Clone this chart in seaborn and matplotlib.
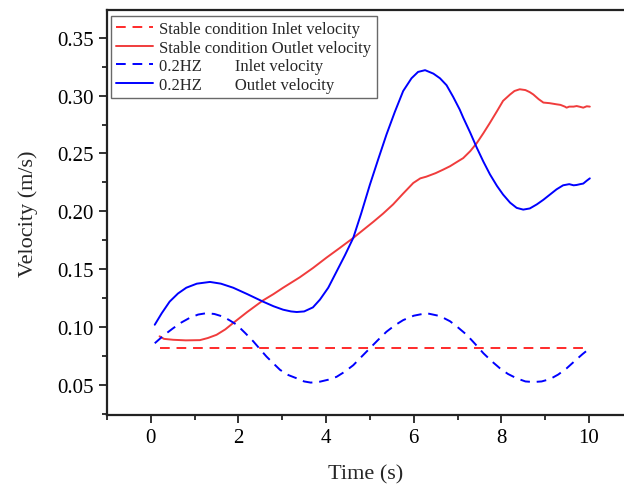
import matplotlib
matplotlib.use("Agg")
import matplotlib.pyplot as plt
import seaborn as sns
import pandas as pd
from matplotlib.ticker import MultipleLocator

sns.set_theme(style="ticks")
plt.rcParams['font.family'] = ['Liberation Serif', 'DejaVu Serif']

# Stable condition inlet velocity
t_stable_in = [0.2, 10.0]
v_stable_in = [0.082, 0.082]

# Stable condition outlet velocity
t_stable_out = [0.2, 0.3, 0.51, 0.8, 1.12, 1.3, 1.5, 1.7, 1.88, 2.2, 2.56, 2.8, 3.02, 3.4,
                3.7, 4.01, 4.3, 4.62, 4.85, 5.08, 5.3, 5.53, 5.75, 5.99, 6.15, 6.29, 6.5,
                6.67, 6.83, 7.0, 7.13, 7.29, 7.44, 7.59, 7.74, 7.9, 8.04, 8.2, 8.3, 8.42,
                8.55, 8.65, 8.73, 8.85, 8.96, 9.1, 9.26, 9.35, 9.45, 9.49, 9.55, 9.65,
                9.72, 9.8, 9.87, 9.95, 10.02]
v_stable_out = [0.092, 0.0898, 0.089, 0.0885, 0.0887, 0.0905, 0.0933, 0.098, 0.1035, 0.113,
                0.123, 0.1285, 0.134, 0.143, 0.151, 0.160, 0.168, 0.177, 0.184, 0.191,
                0.198, 0.206, 0.215, 0.2245, 0.2285, 0.230, 0.233, 0.236, 0.239, 0.243,
                0.246, 0.252, 0.259, 0.2675, 0.2765, 0.2865, 0.2955, 0.301, 0.304, 0.3055,
                0.3048, 0.303, 0.301, 0.297, 0.294, 0.2935, 0.2925, 0.292, 0.2905, 0.2896,
                0.2905, 0.2905, 0.291, 0.2903, 0.2896, 0.2908, 0.2905]

# 0.2HZ inlet velocity
t_hz_in = [0.09, 0.3, 0.51, 0.7, 0.89, 1.08, 1.27, 1.45, 1.65, 1.8, 1.96, 2.15, 2.34, 2.49,
           2.64, 2.8, 2.95, 3.14, 3.33, 3.5, 3.65, 3.86, 4.05, 4.24, 4.43, 4.62, 4.8, 5.0,
           5.19, 5.38, 5.57, 5.76, 6.0, 6.29, 6.6, 6.83, 7.0, 7.21, 7.4, 7.59, 7.78, 7.97,
           8.15, 8.35, 8.55, 8.73, 8.92, 9.11, 9.3, 9.49, 9.7, 9.85, 10.02]
v_hz_in = [0.086, 0.093, 0.099, 0.104, 0.108, 0.1108, 0.112, 0.1113, 0.109, 0.1058, 0.102,
           0.095, 0.0876, 0.081, 0.0745, 0.0685, 0.063, 0.0585, 0.0557, 0.053, 0.052,
           0.0528, 0.0545, 0.057, 0.0615, 0.067, 0.074, 0.0817, 0.089, 0.096, 0.1015,
           0.106, 0.1098, 0.112, 0.1095, 0.105, 0.100, 0.0933, 0.0855, 0.0774, 0.0705,
           0.0643, 0.0595, 0.0557, 0.053, 0.0525, 0.053, 0.055, 0.059, 0.0643, 0.0715,
           0.0765, 0.0817]

# 0.2HZ outlet velocity
t_hz_out = [0.09, 0.25, 0.43, 0.62, 0.81, 1.05, 1.35, 1.6, 1.88, 2.2, 2.56, 2.8, 3.02, 3.2,
            3.33, 3.5, 3.7, 3.86, 4.05, 4.24, 4.43, 4.62, 4.8, 5.0, 5.19, 5.38, 5.57, 5.76,
            5.95, 6.1, 6.26, 6.45, 6.6, 6.75, 6.9, 7.05, 7.13, 7.29, 7.44, 7.59, 7.74, 7.9,
            8.04, 8.2, 8.35, 8.5, 8.65, 8.81, 8.96, 9.11, 9.26, 9.41, 9.55, 9.65, 9.72,
            9.8, 9.87, 9.95, 10.02]
v_hz_out = [0.102, 0.112, 0.122, 0.129, 0.134, 0.1375, 0.139, 0.1375, 0.134, 0.1285, 0.122,
            0.118, 0.115, 0.1135, 0.113, 0.1135, 0.117, 0.1237, 0.134, 0.148, 0.162, 0.177,
            0.198, 0.223, 0.245, 0.2665, 0.286, 0.304, 0.315, 0.3205, 0.322, 0.319, 0.315,
            0.309, 0.299, 0.288, 0.281, 0.268, 0.255, 0.243, 0.232, 0.222, 0.2145, 0.2075,
            0.203, 0.2015, 0.2025, 0.206, 0.210, 0.2145, 0.219, 0.2225, 0.2235, 0.2225,
            0.2228, 0.2235, 0.224, 0.2265, 0.2285]

labels = ["Stable condition Inlet velocity",
          "Stable condition Outlet velocity",
          "0.2HZ        Inlet velocity",
          "0.2HZ        Outlet velocity"]
series = [(t_stable_in, v_stable_in, "#ff2a2a", (5, 3.5)),
          (t_stable_out, v_stable_out, "#f03c3c", None),
          (t_hz_in, v_hz_in, "#0000ff", (5, 3.5)),
          (t_hz_out, v_hz_out, "#0000ff", None)]

fig = plt.figure(figsize=(6.24, 4.85), dpi=100)
ax = fig.add_axes([107/624, 1 - 416/485, 1 - 107/624, (416 - 11)/485])

for (t, v, c, d), lab in zip(series, labels):
    df = pd.DataFrame({"t": t, "v": v})
    sns.lineplot(data=df, x="t", y="v", ax=ax, color=c, lw=1.4,
                 label=lab, sort=False, estimator=None)
    ax.lines[-1].set_solid_joinstyle("round")
    if d is not None:
        ax.lines[-1].set_dashes(d)

ax.set_xlim(-1, 10.8)
ax.set_ylim(0.024, 0.374)
ax.xaxis.set_major_locator(MultipleLocator(2))
ax.xaxis.set_minor_locator(MultipleLocator(1))
ax.yaxis.set_minor_locator(MultipleLocator(0.025))
ax.set_yticks([0.05, 0.10, 0.15, 0.20, 0.25, 0.30, 0.35])
ax.set_yticklabels(["0.05", "0.10", "0.15", "0.20", "0.25", "0.30", "0.35"])
ax.tick_params(axis="both", which="major", direction="out", length=6, width=1.3,
               labelsize=15, colors="#222222", labelcolor="black")
ax.tick_params(axis="both", which="minor", direction="out", length=3.5, width=1.3,
               colors="#222222")
ax.tick_params(top=False, right=False)

ax.spines["right"].set_visible(False)
for s in ["left", "bottom", "top"]:
    ax.spines[s].set_linewidth(1.6)
    ax.spines[s].set_color("#222222")

ax.set_xlabel("Time (s)", fontsize=16, labelpad=12)
ax.set_ylabel("Velocity (m/s)", fontsize=16, labelpad=14)

leg = ax.legend(loc="upper left", bbox_to_anchor=(0.008, 0.985), fontsize=12,
                frameon=True, fancybox=False, edgecolor="#444444",
                handlelength=2.2, handletextpad=0.4, borderpad=0.3,
                labelspacing=0.15, borderaxespad=0.0)
leg.get_frame().set_linewidth(1.0)

fig.savefig("out.png", dpi=100)
